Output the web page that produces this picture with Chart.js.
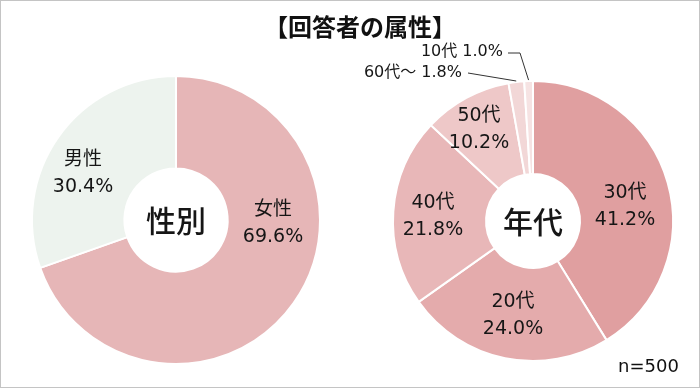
<!DOCTYPE html>
<html>
<head>
<meta charset="utf-8">
<script src="https://cdn.jsdelivr.net/npm/chart.js@4.4.0/dist/chart.umd.min.js"></script>
<style>
  body { margin: 0; background: #fff; }
  #wrap { position: relative; width: 700px; height: 388px; overflow: hidden; background: #fff; }
  #wrap canvas { position: absolute; left: 0; top: 0; }
  .frame { position: absolute; left: 0; top: 0; width: 700px; height: 388px; box-sizing: border-box; border: 1px solid #c4c4c4; pointer-events: none; }
  .title { position: absolute; left: 0; width: 720px; top: 8px; text-align: center; font: bold 24px "Noto Sans CJK JP"; color: #111; }
  .note { position: absolute; left: 618px; top: 355px; font: 18px "DejaVu Sans"; color: #111; }
</style>
</head>
<body>
<div id="wrap">
  <canvas id="sexChart" width="700" height="388"></canvas>
  <canvas id="ageChart" width="700" height="388"></canvas>
  <div class="title">【回答者の属性】</div>
  <div class="note">n=500</div>
  <div class="frame"></div>
</div>
<script>
// data
const sexLabels = ['女性', '男性'];
const sexValues = [69.6, 30.4];
const sexColors = ['#e6b6b7', '#edf3ee'];

const ageLabels = ['30代', '20代', '40代', '50代', '60代～', '10代'];
const ageValues = [41.2, 24.0, 21.8, 10.2, 1.8, 1.0];
const ageColors = ['#e09fa0', '#e4abac', '#e8b7b8', '#eec8c8', '#f2d7d7', '#f6e3e3'];

const labelFont = '19px "DejaVu Sans", "Noto Sans CJK JP"';
const smallFont = '16px "DejaVu Sans", "Noto Sans CJK JP"';
const centerFont = '500 30px "Noto Sans CJK JP"';

// draws the names + percents on / next to each slice
const sliceText = {
    id: 'sliceText',
    afterDatasetsDraw(chart, args, opts) {
        const ctx = chart.ctx;
        const arcs = chart.getDatasetMeta(0).data;
        const cx = arcs[0].x, cy = arcs[0].y;
        const labels = chart.data.labels;
        const vals = chart.data.datasets[0].data;
        ctx.save();
        ctx.fillStyle = '#161616';
        ctx.textAlign = 'center';
        ctx.textBaseline = 'middle';
        ctx.font = centerFont;
        ctx.fillText(opts.center, cx, cy + 1);

        arcs.forEach((arc, i) => {
            const pct = vals[i].toFixed(1) + '%';
            const p = opts.pos[i];
            if (p.callout) {
                ctx.font = smallFont;
                ctx.textAlign = 'right';
                ctx.fillText(labels[i] + ' ' + pct, cx + p.tx, cy + p.ty);
                const mid = (arc.startAngle + arc.endAngle) / 2;
                ctx.strokeStyle = '#333';
                ctx.lineWidth = 1;
                ctx.beginPath();
                ctx.moveTo(cx + p.path[0][0], cy + p.path[0][1]);
                for (let k = 1; k < p.path.length; k++) {
                    ctx.lineTo(cx + p.path[k][0], cy + p.path[k][1]);
                }
                ctx.lineTo(cx + Math.cos(mid) * (arc.outerRadius + 1), cy + Math.sin(mid) * (arc.outerRadius + 1));
                ctx.stroke();
            } else {
                ctx.font = labelFont;
                ctx.textAlign = 'center';
                ctx.fillText(labels[i], cx + p[0], cy + p[1] - 13.5);
                ctx.fillText(pct, cx + p[0], cy + p[1] + 13.5);
            }
        });
        ctx.restore();
    }
};

const baseOpts = (radius, cutout, padding, center, pos) => ({
    responsive: false,
    animation: false,
    events: [],
    radius: radius,
    cutout: cutout,
    layout: { padding: padding },
    plugins: {
        legend: { display: false },
        tooltip: { enabled: false },
        sliceText: { center: center, pos: pos }
    }
});

new Chart(document.getElementById('sexChart'), {
    type: 'doughnut',
    data: {
        labels: sexLabels,
        datasets: [{
            data: sexValues,
            backgroundColor: sexColors,
            borderColor: '#fff',
            borderWidth: 2,
            hoverOffset: 0
        }]
    },
    options: baseOpts(144, 57, { left: 0, right: 348, top: 60, bottom: 8 }, '性別', [
        [97, 4],
        [-93, -46]
    ]),
    plugins: [sliceText]
});

new Chart(document.getElementById('ageChart'), {
    type: 'doughnut',
    data: {
        labels: ageLabels,
        datasets: [{
            data: ageValues,
            backgroundColor: ageColors,
            borderColor: '#fff',
            borderWidth: 2,
            hoverOffset: 0
        }]
    },
    options: baseOpts(140, 53, { left: 366, right: 0, top: 62, bottom: 8 }, '年代', [
        [92, -14],
        [-20, 95],
        [-100, -4],
        [-54, -91],
        { callout: true, tx: -71, ty: -148, path: [[-65, -148]] },
        { callout: true, tx: -30, ty: -169, path: [[-25, -168], [-13, -168]] }
    ]),
    plugins: [sliceText]
});
</script>
</body>
</html>
